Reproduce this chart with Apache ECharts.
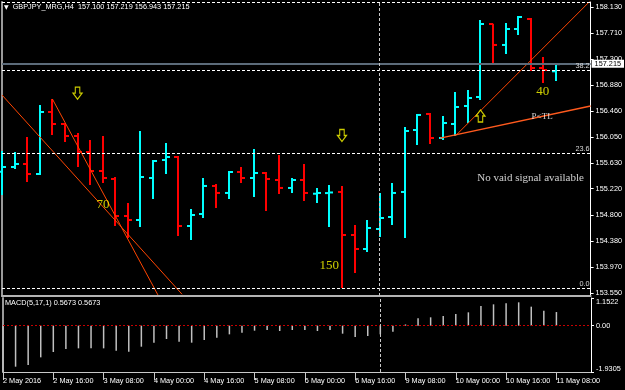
<!DOCTYPE html>
<html>
<head>
<meta charset="utf-8">
<script src="https://cdn.jsdelivr.net/npm/echarts@6/dist/echarts.min.js"></script>
<style>
  html, body { margin: 0; padding: 0; background: #000; }
  #main { width: 625px; height: 390px; }
</style>
</head>
<body>
<div id="main"></div>
<script>
// GBPJPY_MRG H4, bar 0 = 2 May 2016 00:00
// each bar: [open, high, low, close]
var bars = [
  [155.490, 155.824, 155.120, 155.568],
  [155.568, 155.808, 155.536, 155.616],
  [155.616, 156.048, 155.328, 155.456],
  [155.456, 156.561, 155.440, 156.449],
  [156.449, 156.657, 156.080, 156.256],
  [156.256, 156.273, 155.968, 156.064],
  [156.064, 156.112, 155.568, 155.808],
  [155.808, 156.000, 155.280, 155.504],
  [155.504, 156.064, 155.312, 155.392],
  [155.376, 155.408, 154.623, 154.783],
  [154.783, 154.991, 154.431, 154.719],
  [154.719, 156.144, 154.607, 155.408],
  [155.392, 155.680, 155.056, 155.664],
  [155.680, 155.952, 155.456, 155.728],
  [155.728, 155.744, 154.463, 154.623],
  [154.623, 154.895, 154.399, 154.799],
  [154.815, 155.392, 154.751, 155.264],
  [155.264, 155.296, 154.911, 155.152],
  [155.152, 155.504, 155.056, 155.488],
  [155.488, 155.568, 155.312, 155.392],
  [155.392, 155.856, 155.088, 155.472],
  [155.472, 155.488, 154.863, 155.376],
  [155.360, 155.760, 155.136, 155.232],
  [155.232, 155.392, 155.152, 155.360],
  [155.360, 155.616, 155.023, 155.152],
  [155.140, 155.232, 154.991, 155.152],
  [155.150, 155.280, 154.607, 155.160],
  [155.168, 155.264, 153.630, 154.479],
  [154.479, 154.639, 153.871, 154.255],
  [154.255, 154.719, 154.207, 154.591],
  [154.575, 155.152, 154.447, 154.751],
  [154.767, 155.312, 154.639, 155.152],
  [155.168, 156.208, 154.431, 156.144],
  [156.160, 156.417, 155.920, 156.401],
  [156.417, 156.433, 155.936, 156.032],
  [156.032, 156.385, 156.000, 156.272],
  [156.256, 156.769, 156.064, 156.529],
  [156.545, 156.801, 156.272, 156.673],
  [156.689, 157.922, 156.641, 157.858],
  [157.858, 157.860, 157.233, 157.522],
  [157.522, 157.874, 157.377, 157.778],
  [157.778, 157.986, 157.682, 157.970],
  [157.938, 157.954, 157.105, 157.153],
  [157.153, 157.329, 156.913, 157.121],
  [157.100, 157.219, 156.943, 157.215]
];

var macd = [
  -1.930, -1.709, -1.640, -1.320, -1.098, -0.973, -0.945, -0.945, -0.945, -1.042,
  -1.084, -0.876, -0.709, -0.556, -0.667, -0.709, -0.598, -0.501, -0.362, -0.292,
  -0.209, -0.181, -0.223, -0.181, -0.181, -0.223, -0.181, -0.334, -0.473, -0.431,
  -0.362, -0.251, 0.050, 0.305, 0.347, 0.402, 0.485, 0.555, 0.819, 0.888,
  0.930, 0.972, 0.791, 0.624, 0.5673
];

var timeLabels = ['2 May 2016', '2 May 16:00', '3 May 08:00', '4 May 00:00', '4 May 16:00',
  '5 May 08:00', '6 May 00:00', '6 May 16:00', '9 May 08:00', '10 May 00:00',
  '10 May 16:00', '11 May 08:00'];
var priceTicks = [158.130, 157.710, 157.300, 156.880, 156.460, 156.050,
  155.630, 155.220, 154.800, 154.380, 153.970, 153.550];
var macdTicks = [-1.9305, 0, 1.1522];

var priceMin = 153.502, priceMax = 158.210;
var bidPrice = 157.215;
var separatorBar = 30;

// fibo retracement
var fibLow = 153.630, fibHigh = 162.770;
var fibLevels = [0, 23.6, 38.2, 50];

// trend lines [[bar, price], [bar, price]]
var trendLines = [
  [[0, 156.720], [14.3, 153.530]],
  [[4, 156.657], [12.38, 153.520]],
  [[36, 156.064], [46.75, 158.233]]
];
var triggerLine = [[34.8, 156.030], [46.75, 156.545]];

var downArrows = [[6, 156.750], [27, 156.072]];
var upArrows = [[38, 156.385]];
var countNotes = [[8.02, 154.959, '70'], [25.99, 153.987, '150'], [42.94, 156.777, '40']];
var tlNotes = [[42.9, 156.369, 'P<TL']];
var statusNotes = [[41.98, 155.392, 'No vaid signal available']];

var X_MAX = 46.75;
var FONT = 'Liberation Sans';
var SERIF = 'Liberation Serif';
var FS = 7.3;

var chartDom = document.getElementById('main');
var myChart = echarts.init(chartDom, null, {renderer: 'canvas'});

function renderBar(params, api) {
  var i = api.value(0);
  var hi = api.coord([i, api.value(2)]);
  var lo = api.coord([i, api.value(3)]);
  var op = api.coord([i, api.value(1)]);
  var cl = api.coord([i, api.value(4)]);
  var cx = Math.round(hi[0]);
  var color = api.value(4) >= api.value(1) ? '#00ffff' : '#ff0000';
  return {
    type: 'group',
    children: [
      {type: 'line', shape: {x1: cx, y1: hi[1], x2: cx, y2: lo[1]}, style: {stroke: color, lineWidth: 2}},
      {type: 'line', shape: {x1: cx - 4, y1: op[1], x2: cx, y2: op[1]}, style: {stroke: color, lineWidth: 2}},
      {type: 'line', shape: {x1: cx, y1: cl[1], x2: cx + 4, y2: cl[1]}, style: {stroke: color, lineWidth: 2}}
    ]
  };
}

var arrowPath = 'path://M2.5,0 L7.5,0 L7.5,6 L10,6 L5,12 L0,6 L2.5,6 Z';

var fibMarks = fibLevels.map(function (l) {
  return {
    yAxis: fibLow + l / 100 * (fibHigh - fibLow),
    lineStyle: {color: '#ffffff', type: [3, 2], width: 1},
    label: {
      show: l < 50, position: 'insideEndTop', formatter: l.toFixed(1),
      color: '#d8d8d8', fontSize: FS, fontFamily: FONT, distance: [1, 1]
    }
  };
});

var series = [
  {
    name: 'GBPJPY',
    type: 'custom',
    xAxisIndex: 0, yAxisIndex: 0,
    renderItem: renderBar,
    encode: {x: 0, y: [1, 2, 3, 4]},
    data: bars.map(function (b, i) { return [i].concat(b); }),
    z: 3,
    markLine: {
      silent: true, symbol: ['none', 'none'], animation: false,
      data: fibMarks.concat([
        {
          yAxis: bidPrice,
          lineStyle: {color: '#5c6b7a', type: 'solid', width: 2},
          label: {
            show: true, position: 'end', formatter: bidPrice.toFixed(3),
            backgroundColor: '#ffffff', color: '#000000', padding: [1, 3, 0, 3],
            fontSize: FS, fontFamily: FONT, distance: 1
          }
        },
        {
          xAxis: separatorBar,
          lineStyle: {color: '#c8c8c8', type: [3, 2], width: 1},
          label: {show: false}
        }
      ])
    }
  }
];

trendLines.forEach(function (tl) {
  series.push({
    type: 'line', xAxisIndex: 0, yAxisIndex: 0, data: tl,
    symbol: 'none', silent: true, z: 4,
    lineStyle: {color: '#ff4500', width: 1}
  });
});
series.push({
  type: 'line', xAxisIndex: 0, yAxisIndex: 0, data: triggerLine,
  symbol: 'none', silent: true, z: 4,
  lineStyle: {color: '#ff5a1e', width: 1.5}
});

series.push({
  type: 'scatter', xAxisIndex: 0, yAxisIndex: 0, data: downArrows,
  symbol: arrowPath, symbolSize: [9, 12], silent: true, z: 5,
  itemStyle: {color: '#000000', borderColor: '#ffff00', borderWidth: 1.2}
});
series.push({
  type: 'scatter', xAxisIndex: 0, yAxisIndex: 0, data: upArrows,
  symbol: arrowPath, symbolSize: [9, 12], symbolRotate: 180, silent: true, z: 5,
  itemStyle: {color: '#000000', borderColor: '#ffff00', borderWidth: 1.2}
});

function noteSeries(notes, color, size) {
  return {
    type: 'scatter', xAxisIndex: 0, yAxisIndex: 0, data: notes,
    symbolSize: 1, silent: true, z: 6,
    itemStyle: {color: 'rgba(0,0,0,0)'},
    label: {
      show: true, position: 'inside',
      formatter: function (p) { return p.data[2]; },
      color: color, fontFamily: SERIF, fontSize: size
    }
  };
}
series.push(noteSeries(countNotes, '#ffff00', 13));
series.push(noteSeries(tlNotes, '#ffffff', 9));
series.push(noteSeries(statusNotes, '#ffffff', 11));

series.push({
  name: 'MACD',
  type: 'bar', xAxisIndex: 1, yAxisIndex: 1,
  data: macd.map(function (v, i) { return [i, v]; }),
  barWidth: 1.5,
  itemStyle: {color: '#c0c0c0'},
  silent: true,
  markLine: {
    silent: true, symbol: ['none', 'none'], animation: false,
    data: [
      {yAxis: 0, lineStyle: {color: '#c80000', type: [2, 2], width: 1}, label: {show: false}},
      {xAxis: separatorBar, lineStyle: {color: '#c8c8c8', type: [3, 2], width: 1}, label: {show: false}}
    ]
  }
});

var option = {
  backgroundColor: '#000000',
  animation: false,
  textStyle: {fontFamily: FONT},
  title: [
    {
      text: '{t|▼}  GBPJPY_MRG,H4  157.100 157.219 156.943 157.215',
      left: 4, top: 3.5, padding: 0,
      textStyle: {
        color: '#ffffff', fontSize: FS, fontFamily: FONT, fontWeight: 'normal',
        rich: {t: {fontSize: 6, color: '#ffffff', fontFamily: 'DejaVu Sans'}}
      }
    },
    {
      text: 'MACD(5,17,1) 0.5673 0.5673',
      left: 5, top: 299.5, padding: 0,
      textStyle: {color: '#ffffff', fontSize: FS, fontFamily: FONT, fontWeight: 'normal'}
    }
  ],
  grid: [
    {left: 2, top: 2, width: 589, height: 294},
    {left: 2, top: 298, width: 589, height: 74}
  ],
  xAxis: [
    {
      gridIndex: 0, type: 'value', min: 0, max: X_MAX,
      axisLine: {show: true, onZero: false, lineStyle: {color: '#b4b4b4', width: 2}},
      axisTick: {show: false}, axisLabel: {show: false}, splitLine: {show: false}
    },
    {
      gridIndex: 1, type: 'value', min: 0, max: X_MAX,
      axisLine: {show: true, onZero: false, lineStyle: {color: '#c8c8c8', width: 1}},
      axisTick: {
        show: true, length: 8, lineStyle: {color: '#c8c8c8'},
        customValues: timeLabels.map(function (t, k) { return k * 4; })
      },
      axisLabel: {
        color: '#ffffff', fontSize: FS, fontFamily: FONT, align: 'left', margin: 5,
        customValues: timeLabels.map(function (t, k) { return k * 4; }),
        formatter: function (v) { return timeLabels[Math.round(v / 4)] || ''; }
      },
      splitLine: {show: false}
    }
  ],
  yAxis: [
    {
      gridIndex: 0, type: 'value', position: 'right', min: priceMin, max: priceMax,
      axisLine: {show: true, onZero: false, lineStyle: {color: '#ffffff', width: 1}},
      axisTick: {show: true, length: 3, customValues: priceTicks, lineStyle: {color: '#ffffff'}},
      axisLabel: {
        customValues: priceTicks, color: '#ffffff', fontSize: FS, fontFamily: FONT, margin: 5,
        formatter: function (v) { return v.toFixed(3); }
      },
      splitLine: {show: false}
    },
    {
      gridIndex: 1, type: 'value', position: 'right', min: -1.9305, max: 1.1522,
      axisLine: {show: true, onZero: false, lineStyle: {color: '#ffffff', width: 1}},
      axisTick: {show: true, length: 3, customValues: macdTicks, lineStyle: {color: '#ffffff'}},
      axisLabel: {
        customValues: macdTicks, color: '#ffffff', fontSize: FS, fontFamily: FONT, margin: 5,
        verticalAlignMaxLabel: 'top', verticalAlignMinLabel: 'bottom',
        formatter: function (v) { return v === 0 ? '0.00' : v.toFixed(4); }
      },
      splitLine: {show: false}
    },
    {
      gridIndex: 0, type: 'value', position: 'left', min: 0, max: 1,
      axisLine: {show: true, onZero: false, lineStyle: {color: '#9a9a9a', width: 2}},
      axisTick: {show: false}, axisLabel: {show: false}, splitLine: {show: false}
    },
    {
      gridIndex: 1, type: 'value', position: 'left', min: 0, max: 1,
      axisLine: {show: true, onZero: false, lineStyle: {color: '#9a9a9a', width: 2}},
      axisTick: {show: false}, axisLabel: {show: false}, splitLine: {show: false}
    }
  ],
  series: series
};

option && myChart.setOption(option);
</script>
</body>
</html>
